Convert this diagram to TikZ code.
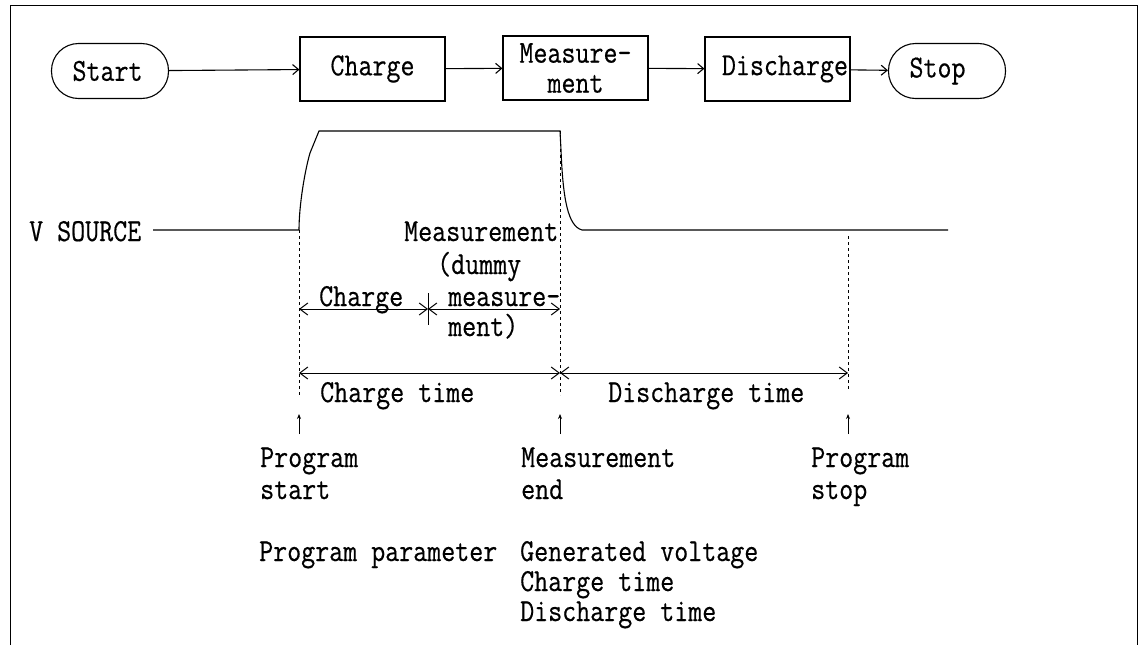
\documentclass[tikz,border=0pt]{standalone}
\usepackage{fontspec}
\setmainfont{Latin Modern Mono}[FakeStretch=0.85, FakeBold=0.5]
\usetikzlibrary{arrows.meta}
\begin{document}
\begin{tikzpicture}[x=1pt,y=-1pt,
  every node/.style={font=\fontsize{32pt}{30pt}\selectfont},
  lbl/.style={inner sep=0pt, anchor=base west},
  flowbox/.style={draw, line width=1.1pt, minimum width=145pt, minimum height=64pt, inner sep=0pt, align=center},
  terminal/.style={draw, line width=1.1pt, rounded corners=27pt, minimum width=117pt, minimum height=55pt, text width=75pt, align=left, inner sep=0pt},
  flow/.style={line width=1.1pt, -{Straight Barb[length=6pt,width=10pt]}},
  dim/.style={line width=1pt, {Straight Barb[length=8pt,width=12pt]}-{Straight Barb[length=8pt,width=12pt]}},
  guide/.style={line width=0.8pt, dash pattern=on 3pt off 3pt},
  pointer/.style={line width=0.8pt, -{Stealth[length=5pt,width=4pt]}},
  wave/.style={line width=1.1pt}]
\useasboundingbox (0,0) rectangle (1142,645);
% frame
\draw[line width=1pt] (10,645) -- (10,5) -- (1137,5) -- (1137,645);

% flow chart
\node[terminal] (start) at (110,71) {Start};
\node[flowbox] (charge) at (372.5,69) {Charge};
\node[flowbox] (meas) at (575.5,68) {Measure-\\ment};
\node[flowbox, text width=141pt, align=right] (disch) at (777.5,69) {Discharge};
\node[terminal] (stop) at (947,71) {Stop};
\draw[flow] (start) -- (charge);
\draw[flow] (charge) -- (meas);
\draw[flow] (meas) -- (disch);
\draw[flow] (disch) -- (stop);

% waveform
\node[lbl] (vs) at (29,241) {V SOURCE};
\coordinate (w0) at (299,230);
\draw[wave] (153,230) -- (w0) .. controls (299,205) and (305,170) .. (310,153) -- (319,131) -- (560,131) -- (561,150) .. controls (563,200) and (568,226) .. (582,230) -- (948,230);

% guide lines
\draw[guide] (299,230) -- (299,395);
\draw[guide] (560,131) -- (560,395);
\draw[guide] (848,236) -- (848,390);

% labels in the pulse
\node[lbl] (mlbl) at (404,241) {Measurement};
\node[lbl] (mdummy) at (437,274) {(dummy};
\node[lbl] (mmeas) at (448,306) {measure-};
\node[lbl] (mment) at (448,336) {ment)};
\node[lbl] (clbl) at (319,306) {Charge};

% dimension arrows
\coordinate (p0) at (299,309);
\coordinate (pm) at (428,309);
\coordinate (p1) at (560,309);
\draw[dim] (p0) -- (pm);
\draw[dim] (pm) -- (p1);
\draw[line width=0.8pt] (428,293) -- (428,325);

\coordinate (q0) at (299,373);
\coordinate (q1) at (560,373);
\coordinate (q2) at (848,373);
\draw[dim] (q0) -- (q1);
\draw[dim] (q1) -- (q2);
\node[lbl] (ctime) at (320,402) {Charge time};
\node[lbl] (dtime) at (608,402) {Discharge time};

% pointers
\draw[pointer] (299,434) -- (299,414);
\draw[pointer] (560,434) -- (560,414);
\draw[pointer] (848,434) -- (848,414);

\node[lbl] (ps1) at (260,467) {Program};
\node[lbl] (ps2) at (260,499) {start};
\node[lbl] (me1) at (521,467) {Measurement};
\node[lbl] (me2) at (521,499) {end};
\node[lbl] (pt1) at (811,467) {Program};
\node[lbl] (pt2) at (811,499) {stop};

% parameters
\node[lbl] (pp) at (259,561) {Program parameter};
\node[lbl] (g1) at (520,561) {Generated voltage};
\node[lbl] (g2) at (520,591) {Charge time};
\node[lbl] (g3) at (520,621) {Discharge time};
\end{tikzpicture}
\end{document}
